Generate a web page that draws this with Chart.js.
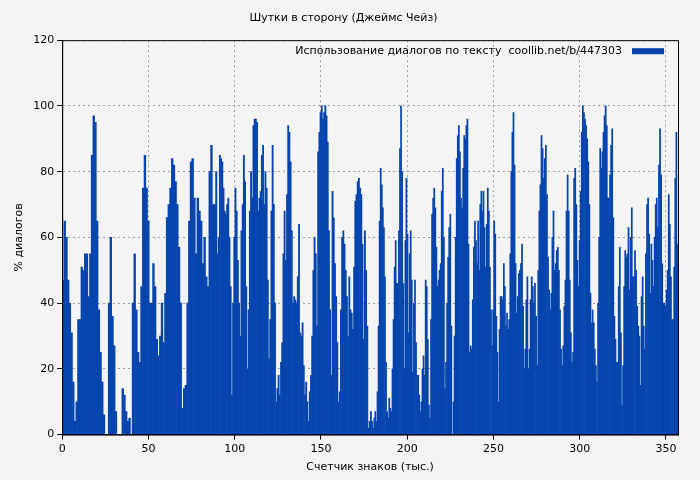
<!DOCTYPE html>
<html>
<head>
<meta charset="utf-8">
<script src="https://cdn.jsdelivr.net/npm/chart.js@4/dist/chart.umd.min.js"></script>
<style>
  html, body { margin: 0; padding: 0; background: #f4f4f4; }
  #wrap { width: 700px; height: 480px; }
</style>
</head>
<body>
<div id="wrap"><canvas id="chart"></canvas></div>
<script>
const chartTitle = 'Шутки в сторону (Джеймс Чейз)';
const legendText = 'Использование диалогов по тексту  coollib.net/b/447303';
const xTitle = 'Счетчик знаков (тыс.)';
const yTitle = '% диалогов';

// values, in four stretches of the x axis
const seg1Range = [0, 89];
const seg1 = [47,65,60,47,40,31,16,4,10,35,35,51,50,55,55,42,55,85,97,95,65,38,25,16,6,0,0,40,60,36,27,7,0,0,0,14,12,7,4,5,0,40,55,38,25,22,45,75,85,75,65,40,40,52,45,29,24,30,40,28,43,66,70,75,84,82,77,70,57,40,8,14,15,40,65,83,84,72,55,72,68,65,52,60,48,45,80,88,70,70];
const seg2Range = [89, 180];
const seg2 = [80,55,60,85,84,83,75,68,67,70,72,60,45,12,40,60,75,68,53,40,30,62,70,85,77,45,20,38,68,80,72,94,96,96,95,68,72,74,85,88,70,80,75,47,23,35,68,88,70,40,10,14,18,12,22,28,55,68,53,73,94,92,83,62,40,42,41,40,48,64,31,30,34,21,12,16,10,4,13,18,30,50,60,55,33,86,92,98,100,96,98,100,97,89,62,38,18,74,66,52,42,28,10,13,38,60,62,58,50,42,30,48,38,37,32,51,71,73,77,78,75,73,58,29,62,50,33,2,4,7,4];
const seg3Range = [180, 270];
const seg3 = [2,5,7,4,13,33,65,81,76,69,63,48,22,7,5,11,8,7,20,35,51,59,46,46,62,87,100,80,46,20,59,78,61,31,55,62,47,19,40,47,28,18,18,12,7,10,20,24,18,47,45,29,9,5,35,67,72,75,69,57,45,47,50,52,74,81,60,14,22,40,54,63,67,33,0,10,30,60,84,91,94,86,72,69,81,91,90,94,96,58,25,27,26,41,57,65,59,52,65,50,70,74,68,74,63,51,64,75,68,51,38,27,38,65,61,36,25,10,32,42,42,41,52,45,33,37,32,35,55,80,92,98,82,52,37,42,49,50,52,58,39,20,26,41,48];
const seg4Range = [270, 357];
const seg4 = [20,26,41,48,45,40,46,36,21,50,68,76,91,87,78,84,88,73,54,44,38,43,60,68,50,52,56,57,50,38,26,21,27,39,47,68,79,68,47,31,22,25,78,81,70,53,45,59,74,92,100,98,96,94,90,83,70,43,34,38,34,26,21,16,40,60,87,81,86,92,97,100,94,72,72,79,88,93,66,36,29,22,22,45,57,31,9,21,45,56,54,55,63,44,60,69,48,48,56,50,39,33,30,15,42,48,33,26,55,70,72,61,43,58,53,45,60,70,72,63,82,93,79,52,40,40,39,44,50,73,64,48,35,35,51,78,92,58];

const yTicks = [0, 20, 40, 60, 80, 100, 120];
const xTicks = [0, 50, 100, 150, 200, 250, 300, 350];

function spread(vals, range) {
  const step = (range[1] - range[0]) / vals.length;
  return vals.map((v, i) => ({ x: range[0] + (i + 0.5) * step, y: v }));
}
const points = [].concat(
  spread(seg1, seg1Range), spread(seg2, seg2Range),
  spread(seg3, seg3Range), spread(seg4, seg4Range));

const barColor = '#0645ad';
const font = 'DejaVu Sans';

const legendBox = {
  id: 'legendBox',
  afterDraw(chart) {
    const { ctx, chartArea } = chart;
    ctx.save();
    ctx.font = '11px ' + font;
    ctx.fillStyle = '#000';
    ctx.textAlign = 'right';
    ctx.textBaseline = 'middle';
    const y = chartArea.top + 11;
    ctx.fillText(legendText, chartArea.right - 56, y);
    ctx.fillStyle = barColor;
    ctx.fillRect(chartArea.right - 46, y - 3, 32, 6);
    ctx.restore();
  }
};

new Chart(document.getElementById('chart'), {
  type: 'bar',
  data: {
    datasets: [{
      label: legendText,
      data: points,
      backgroundColor: barColor,
      borderWidth: 0,
      barPercentage: 1,
      categoryPercentage: 1,
      barThickness: 'flex'
    }]
  },
  options: {
    responsive: true,
    maintainAspectRatio: false,
    animation: false,
    layout: { padding: { left: 9, right: 22, top: 4, bottom: 2 } },
    plugins: {
      legend: { display: false },
      tooltip: { enabled: false },
      title: {
        display: true, text: chartTitle, color: '#000',
        font: { family: font, size: 11, weight: 'normal' },
        padding: { top: 8, bottom: 15 }
      }
    },
    scales: {
      x: {
        type: 'linear', min: 0, max: 357, offset: false,
        afterBuildTicks: s => { s.ticks = xTicks.map(v => ({ value: v })); },
        ticks: { color: '#000', font: { family: font, size: 11 }, maxRotation: 0 },
        grid: { color: '#a0a0a0', tickColor: '#000', tickLength: 5, offset: false },
        border: { color: '#000', dash: [2, 3], display: true },
        title: { display: true, text: xTitle, color: '#000', font: { family: font, size: 11 }, padding: { top: 2 } }
      },
      y: {
        min: 0, max: 120,
        afterBuildTicks: s => { s.ticks = yTicks.map(v => ({ value: v })); },
        ticks: { color: '#000', font: { family: font, size: 11 } },
        grid: { color: '#a0a0a0', tickColor: '#000', tickLength: 5 },
        border: { color: '#000', dash: [2, 3] },
        title: { display: true, text: yTitle, color: '#000', font: { family: font, size: 11 } }
      }
    }
  },
  plugins: [legendBox, {
    id: 'frame',
    afterDraw(chart) {
      const { ctx, chartArea: a } = chart;
      ctx.save();
      ctx.strokeStyle = '#000';
      ctx.lineWidth = 1;
      ctx.strokeRect(a.left + 0.5, a.top + 0.5, a.right - a.left, a.bottom - a.top);
      ctx.restore();
    }
  }]
});
</script>
</body>
</html>
